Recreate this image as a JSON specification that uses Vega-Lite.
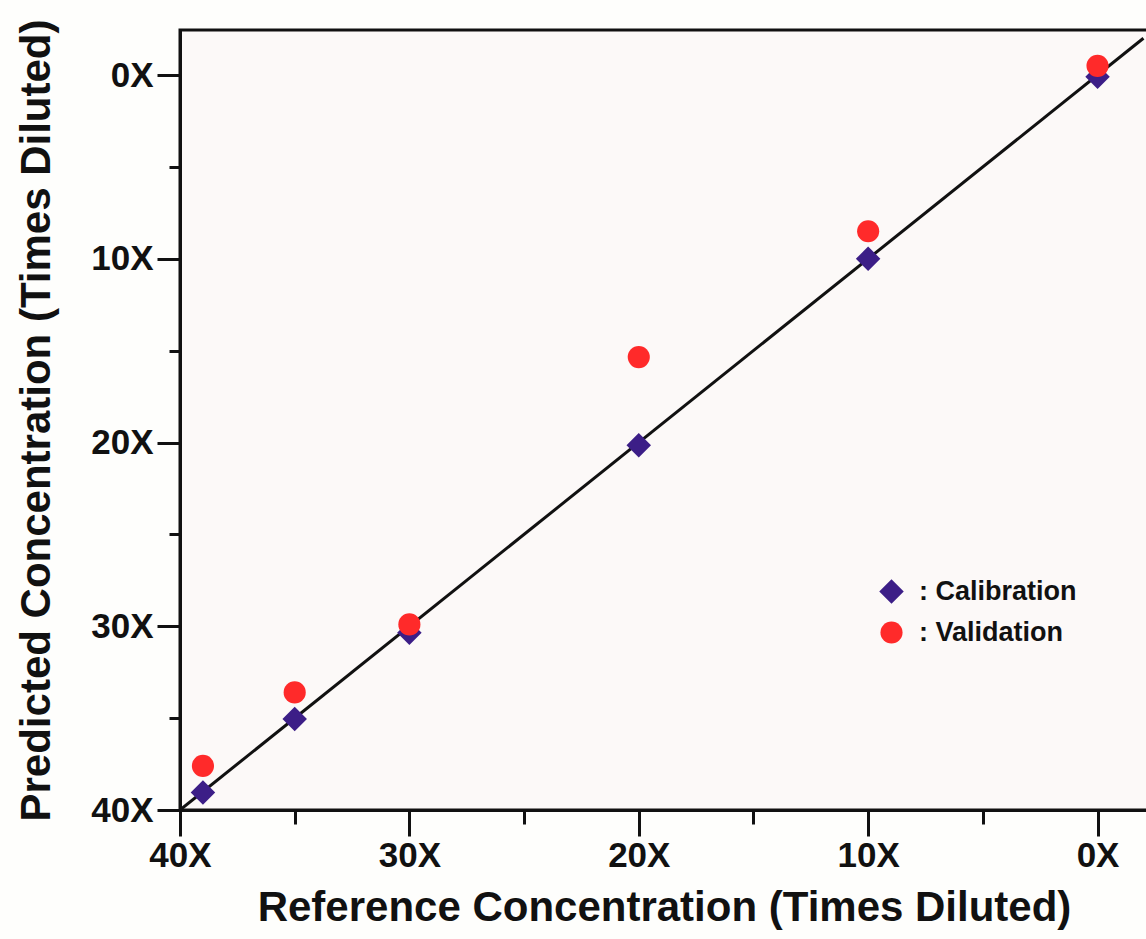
{
  "$schema": "https://vega.github.io/schema/vega-lite/v6.json",
  "autosize": "none",
  "width": 968,
  "height": 780,
  "padding": {"left": 180, "top": 30, "right": 0, "bottom": 129},
  "background": "#fefefc",
  "config": {
    "view": {"stroke": "#111111", "strokeWidth": 3, "fill": "#fcf9f8"},
    "font": "Liberation Sans",
    "axis": {
      "domainColor": "#111111", "domainWidth": 3,
      "tickColor": "#111111", "tickWidth": 3,
      "labelFont": "Liberation Sans", "labelFontWeight": "bold", "labelFontSize": 35, "labelColor": "#111111",
      "titleFont": "Liberation Sans", "titleFontWeight": "bold", "titleFontSize": 42, "titleColor": "#111111",
      "grid": false
    },
    "legend": {
      "labelFont": "Liberation Sans", "labelFontWeight": "bold", "labelFontSize": 27, "labelColor": "#111111"
    }
  },
  "datasets": {
    "points": [
      {"ref": 39, "pred": 39.05, "series": "Calibration"},
      {"ref": 35, "pred": 35.05, "series": "Calibration"},
      {"ref": 30, "pred": 30.35, "series": "Calibration"},
      {"ref": 20, "pred": 20.15, "series": "Calibration"},
      {"ref": 10, "pred": 10.0, "series": "Calibration"},
      {"ref": 0, "pred": 0.1, "series": "Calibration"},
      {"ref": 39, "pred": 37.6, "series": "Validation"},
      {"ref": 35, "pred": 33.6, "series": "Validation"},
      {"ref": 30, "pred": 29.9, "series": "Validation"},
      {"ref": 20, "pred": 15.35, "series": "Validation"},
      {"ref": 10, "pred": 8.5, "series": "Validation"},
      {"ref": 0, "pred": -0.5, "series": "Validation"}
    ],
    "fit": [
      {"ref": 40, "pred": 40},
      {"ref": -2, "pred": -2}
    ]
  },
  "layer": [
    {
      "data": {"name": "fit"},
      "mark": {"type": "line", "color": "#111111", "strokeWidth": 3, "clip": true},
      "encoding": {
        "x": {"field": "ref", "type": "quantitative"},
        "y": {"field": "pred", "type": "quantitative"}
      }
    },
    {
      "data": {"name": "points"},
      "mark": {"type": "point", "filled": true, "opacity": 1},
      "encoding": {
        "x": {
          "field": "ref", "type": "quantitative",
          "scale": {"domain": [-2.2, 40], "reverse": true, "nice": false, "zero": false},
          "axis": {
            "title": "Reference Concentration (Times Diluted)",
            "values": [40, 35, 30, 25, 20, 15, 10, 5, 0],
            "labelExpr": "datum.value % 10 === 0 ? datum.value + 'X' : ''",
            "tickSize": {"condition": {"test": "datum.value % 10 === 0", "value": 26}, "value": 14},
            "labelPadding": 2,
            "titlePadding": 14,
            "labelFlush": false,
            "labelOverlap": false
          }
        },
        "y": {
          "field": "pred", "type": "quantitative",
          "scale": {"domain": [-2.45, 40], "reverse": true, "nice": false, "zero": false},
          "axis": {
            "title": "Predicted Concentration (Times Diluted)",
            "values": [40, 35, 30, 25, 20, 15, 10, 5, 0],
            "labelExpr": "datum.value % 10 === 0 ? datum.value + 'X' : ''",
            "tickSize": {"condition": {"test": "datum.value % 10 === 0", "value": 23}, "value": 11},
            "labelPadding": 4,
            "titlePadding": 32,
            "labelFlush": false,
            "labelOverlap": false
          }
        },
        "shape": {
          "field": "series", "type": "nominal",
          "scale": {"domain": ["Calibration", "Validation"], "range": ["diamond", "circle"]},
          "legend": {
            "title": null,
            "orient": "none",
            "legendX": 698,
            "legendY": 548,
            "padding": 0,
            "symbolSize": 560,
            "symbolStrokeWidth": 0,
            "labelOffset": 14,
            "rowPadding": 13,
            "labelExpr": "': ' + datum.label"
          }
        },
        "color": {
          "field": "series", "type": "nominal",
          "scale": {"domain": ["Calibration", "Validation"], "range": ["#3c1e87", "#ff2a2a"]},
          "legend": {
            "title": null,
            "orient": "none",
            "legendX": 698,
            "legendY": 548,
            "padding": 0,
            "symbolSize": 560,
            "symbolStrokeWidth": 0,
            "labelOffset": 14,
            "rowPadding": 13,
            "labelExpr": "': ' + datum.label"
          }
        },
        "size": {
          "field": "series", "type": "nominal",
          "scale": {"domain": ["Calibration", "Validation"], "range": [600, 490]},
          "legend": null
        }
      }
    }
  ]
}
